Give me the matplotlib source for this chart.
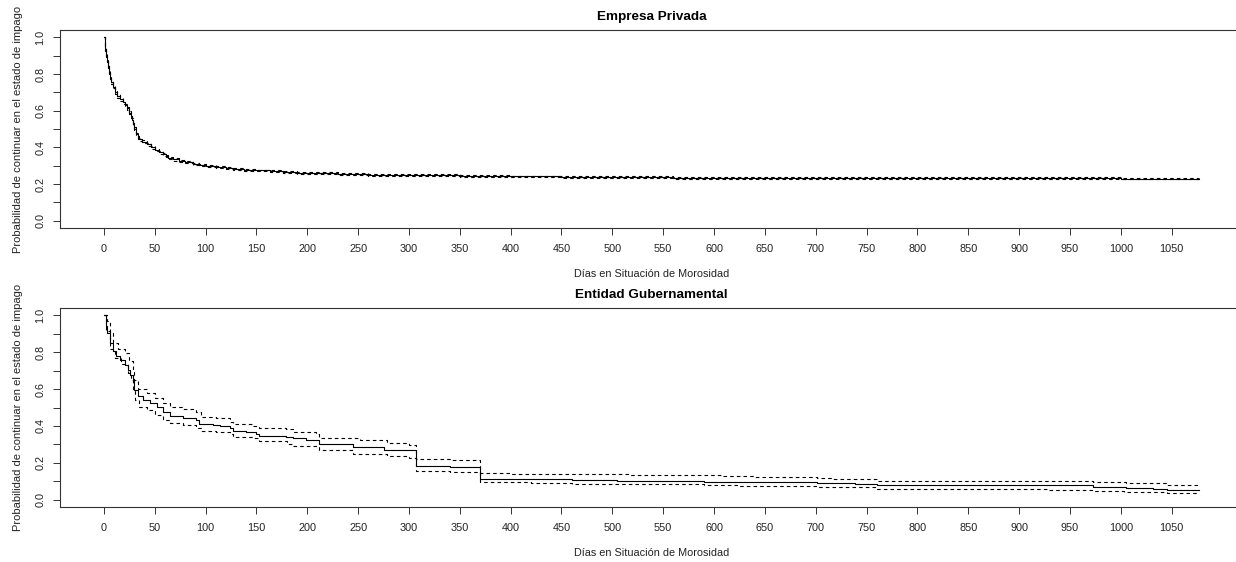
import matplotlib
matplotlib.use("Agg")
import matplotlib.pyplot as plt
import numpy as np

plt.rcParams['font.family'] = ['Liberation Sans', 'DejaVu Sans']

# ---------------- data ----------------
titles = ["Empresa Privada", "Entidad Gubernamental"]
x_label = "Días en Situación de Morosidad"
y_label = "Probabilidad de continuar en el estado de impago"
x_ticks = list(range(0, 1051, 50))
y_ticks = [0.0, 0.1, 0.2, 0.3, 0.4, 0.5, 0.6, 0.7, 0.8, 0.9, 1.0]
y_tick_labels = ["0.0", "", "0.2", "", "0.4", "", "0.6", "", "0.8", "", "1.0"]

# Empresa Privada (Kaplan-Meier estimate with CI)
priv_days = [0, 1, 2, 3, 4, 5, 6, 7, 9, 11, 13, 16, 19, 21, 23, 25, 27, 28, 29, 30,
             32, 34, 35, 38, 42, 46, 50, 54, 58, 61, 63, 68, 74, 80, 88, 94, 100, 110,
             120, 127, 138, 150, 163, 176, 190, 208, 230, 260, 300, 350, 400, 450, 500,
             560, 620, 700, 800, 900, 1000, 1077]
priv_surv = [1.0, 0.936, 0.90, 0.872, 0.84, 0.808, 0.78, 0.754, 0.73, 0.70, 0.68, 0.662,
             0.645, 0.63, 0.612, 0.59, 0.571, 0.55, 0.526, 0.50, 0.471, 0.452, 0.443, 0.43,
             0.416, 0.40, 0.385, 0.373, 0.361, 0.352, 0.343, 0.334, 0.325, 0.318, 0.31,
             0.303, 0.297, 0.291, 0.286, 0.283, 0.278, 0.274, 0.27, 0.266, 0.262, 0.259,
             0.255, 0.251, 0.247, 0.243, 0.241, 0.239, 0.237, 0.235, 0.234, 0.233, 0.232,
             0.231, 0.230, 0.229]
priv_upper = [1.0, 0.944, 0.909, 0.881, 0.849, 0.817, 0.789, 0.763, 0.739, 0.709, 0.689,
              0.671, 0.654, 0.639, 0.621, 0.599, 0.580, 0.559, 0.535, 0.509, 0.479, 0.460,
              0.451, 0.438, 0.423, 0.407, 0.392, 0.380, 0.367, 0.358, 0.349, 0.340, 0.331,
              0.323, 0.315, 0.308, 0.302, 0.296, 0.291, 0.288, 0.283, 0.279, 0.275, 0.271,
              0.267, 0.264, 0.260, 0.256, 0.252, 0.248, 0.246, 0.244, 0.242, 0.240, 0.239,
              0.238, 0.237, 0.236, 0.235, 0.234]
priv_lower = [1.0, 0.928, 0.891, 0.863, 0.831, 0.799, 0.771, 0.745, 0.721, 0.691, 0.671,
              0.653, 0.636, 0.621, 0.603, 0.581, 0.562, 0.541, 0.517, 0.491, 0.463, 0.444,
              0.435, 0.422, 0.409, 0.393, 0.378, 0.366, 0.355, 0.346, 0.337, 0.328, 0.319,
              0.313, 0.305, 0.298, 0.292, 0.286, 0.281, 0.278, 0.273, 0.269, 0.265, 0.261,
              0.257, 0.254, 0.250, 0.246, 0.242, 0.238, 0.236, 0.234, 0.232, 0.230, 0.229,
              0.228, 0.227, 0.226, 0.225, 0.224]

# Entidad Gubernamental (Kaplan-Meier estimate with CI)
gov_days = [0, 2, 3, 6, 9, 12, 16, 21, 24, 26, 29, 30, 34, 39, 45, 52, 58, 65, 78, 91,
            94, 107, 114, 124, 127, 140, 150, 153, 179, 186, 199, 212, 245, 275, 307,
            340, 370, 430, 460, 505, 590, 623, 701, 739, 760, 973, 1005, 1032, 1045, 1077]
gov_surv = [1.0, 0.94, 0.905, 0.85, 0.805, 0.778, 0.76, 0.733, 0.705, 0.678, 0.642,
            0.596, 0.56, 0.542, 0.524, 0.505, 0.478, 0.455, 0.445, 0.433, 0.411, 0.407,
            0.40, 0.387, 0.375, 0.369, 0.356, 0.347, 0.342, 0.333, 0.322, 0.30, 0.286,
            0.268, 0.182, 0.175, 0.113, 0.11, 0.107, 0.102, 0.098, 0.095, 0.089, 0.086,
            0.078, 0.069, 0.062, 0.058, 0.053, 0.053]
gov_up_days = [0, 3, 6, 9, 14, 21, 25, 29, 30, 34, 42, 50, 58, 65, 78, 91, 96, 110, 124,
               127, 147, 153, 179, 186, 209, 212, 252, 278, 300, 307, 340, 370, 400, 450,
               516, 608, 640, 701, 715, 760, 973, 1005, 1045, 1077]
gov_upper = [1.0, 0.969, 0.905, 0.85, 0.815, 0.796, 0.75, 0.705, 0.651, 0.60, 0.578,
             0.551, 0.524, 0.502, 0.491, 0.473, 0.447, 0.442, 0.424, 0.409, 0.40, 0.387,
             0.382, 0.367, 0.356, 0.337, 0.322, 0.308, 0.299, 0.219, 0.213, 0.146, 0.14,
             0.137, 0.131, 0.128, 0.124, 0.117, 0.11, 0.102, 0.095, 0.089, 0.08, 0.08]
gov_lo_days = [0, 2, 6, 11, 17, 24, 27, 29, 31, 35, 42, 50, 58, 65, 78, 91, 96, 110, 124,
               127, 147, 153, 180, 186, 212, 245, 278, 300, 307, 340, 370, 420, 460, 505,
               590, 623, 701, 715, 760, 927, 973, 1003, 1035, 1045, 1077]
gov_lower = [1.0, 0.915, 0.815, 0.769, 0.738, 0.687, 0.651, 0.596, 0.542, 0.505, 0.484,
             0.46, 0.433, 0.415, 0.405, 0.387, 0.375, 0.365, 0.356, 0.342, 0.333, 0.32,
             0.30, 0.29, 0.268, 0.25, 0.235, 0.228, 0.158, 0.15, 0.095, 0.088, 0.086,
             0.083, 0.078, 0.075, 0.069, 0.066, 0.058, 0.053, 0.049, 0.044, 0.04, 0.037,
             0.037]

panels = [
    (titles[0], priv_days, priv_surv, priv_days, priv_upper, priv_days, priv_lower),
    (titles[1], gov_days, gov_surv, gov_up_days, gov_upper, gov_lo_days, gov_lower),
]

# ---------------- figure ----------------
W, H, DPI = 1236, 562, 100
fig = plt.figure(figsize=(W / DPI, H / DPI), dpi=DPI)

# axes boxes in pixels: (left, top, right, bottom)
boxes = [(60, 30, 1243, 228), (60, 308, 1243, 507)]
text_col = "#222222"
dash = (0, (3.2, 2.8))

for (title, d, s, du, su, dl, sl), (l, t, r, b) in zip(panels, boxes):
    ax = fig.add_axes([l / W, 1 - b / H, (r - l) / W, (b - t) / H])
    ax.step(d, s, where="post", color="black", lw=0.8)
    ax.step(du, su, where="post", color="black", lw=0.8, linestyle=dash)
    ax.step(dl, sl, where="post", color="black", lw=0.8, linestyle=dash)

    ax.set_xlim(-43.08, 1120.08)
    ax.set_ylim(-0.04, 1.04)
    ax.set_xticks(x_ticks)
    ax.set_xticklabels([str(v) for v in x_ticks], fontsize=7.8, color=text_col)
    ax.set_yticks(y_ticks)
    ax.set_yticklabels(y_tick_labels, fontsize=7.8, color=text_col,
                       rotation=90, va="center")
    ax.tick_params(axis="x", direction="out", length=5, width=0.7, pad=6.5,
                   color="#333333")
    ax.tick_params(axis="y", direction="out", length=5, width=0.7, pad=5.5,
                   color="#333333")
    for name, sp in ax.spines.items():
        sp.set_linewidth(0.8)
        sp.set_color("#333333")
    ax.spines["right"].set_visible(False)

    ax.set_title(title, fontsize=9.7, fontweight="bold", color="black", pad=7)
    ax.set_xlabel(x_label, fontsize=7.8, color=text_col, labelpad=11)
    ax.set_ylabel(y_label, fontsize=8.0, color=text_col, labelpad=9)

fig.savefig("out.png", dpi=DPI, facecolor="white")
